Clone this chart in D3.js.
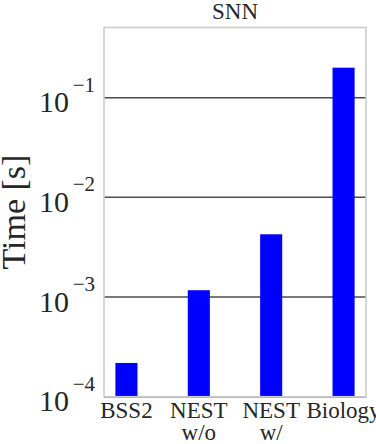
<!DOCTYPE html>
<html>
<head>
<meta charset="utf-8">
<script src="https://cdn.jsdelivr.net/npm/d3@7"></script>
<style>
  html, body { margin: 0; padding: 0; background: #fff; }
  svg { display: block; }
  text { font-family: "Liberation Serif", "DejaVu Serif", serif; fill: #262626; }
</style>
</head>
<body>
<svg id="chart" width="376" height="444"></svg>
<script>
const categories = ["BSS2", "NEST\nw/o", "NEST\nw/", "Biology"];
const times = [2.18e-4, 1.17e-3, 4.26e-3, 0.2];
const yTicks = [1e-4, 1e-3, 1e-2, 1e-1];
const yTickExponents = ["\u22124", "\u22123", "\u22122", "\u22121"];
const title = "SNN";
const yLabel = "Time [s]";

const svg = d3.select("#chart");
const pLeft = 104, pRight = 366, pTop = 27.5, pBottom = 396.7;

const x = d3.scaleLinear().domain([-0.31, 3.31]).range([pLeft, pRight]);
const y = d3.scaleLog().domain([1e-4, 0.506]).range([pBottom, pTop]);
const barW = 0.305;

// gridlines
svg.append("g").selectAll("line").data(yTicks).join("line")
  .attr("x1", pLeft).attr("x2", pRight)
  .attr("y1", d => y(d)).attr("y2", d => y(d))
  .attr("stroke", "#4d4d4d").attr("stroke-width", 1.5);

// bars
svg.append("g").selectAll("rect").data(times).join("rect")
  .attr("x", (d, i) => x(i - barW / 2))
  .attr("width", x(barW) - x(0))
  .attr("y", d => y(d))
  .attr("height", d => pBottom - y(d))
  .attr("fill", "#0000ff");

// frame
svg.append("rect")
  .attr("x", pLeft).attr("y", pTop)
  .attr("width", pRight - pLeft).attr("height", pBottom - pTop)
  .attr("fill", "none").attr("stroke", "#cccccc").attr("stroke-width", 1.6);

// y tick labels
const yl = svg.append("g").selectAll("g").data(yTicks).join("g");
yl.append("text")
  .attr("x", 95).attr("y", d => y(d) - 6)
  .attr("text-anchor", "end")
  .attr("font-size", 21)
  .text((d, i) => yTickExponents[i]);
yl.append("text")
  .attr("x", 69).attr("y", d => y(d) + 14.5)
  .attr("text-anchor", "end")
  .attr("font-size", 30)
  .text("10");

// x labels
const xl = svg.append("g").selectAll("text").data(categories).join("text")
  .attr("text-anchor", "middle")
  .attr("font-size", 23);
xl.each(function(d, i) {
  const lines = d.split("\n");
  d3.select(this).selectAll("tspan").data(lines).join("tspan")
    .attr("x", x(i))
    .attr("y", (l, j) => 418 + j * 22)
    .text(l => l);
});

// title
svg.append("text")
  .attr("x", (pLeft + pRight) / 2).attr("y", 19)
  .attr("text-anchor", "middle")
  .attr("font-size", 23)
  .text(title);

// y label
svg.append("text")
  .attr("transform", `translate(25,${(pTop + pBottom) / 2}) rotate(-90)`)
  .attr("text-anchor", "middle")
  .attr("font-size", 34)
  .text(yLabel);
</script>
</body>
</html>
